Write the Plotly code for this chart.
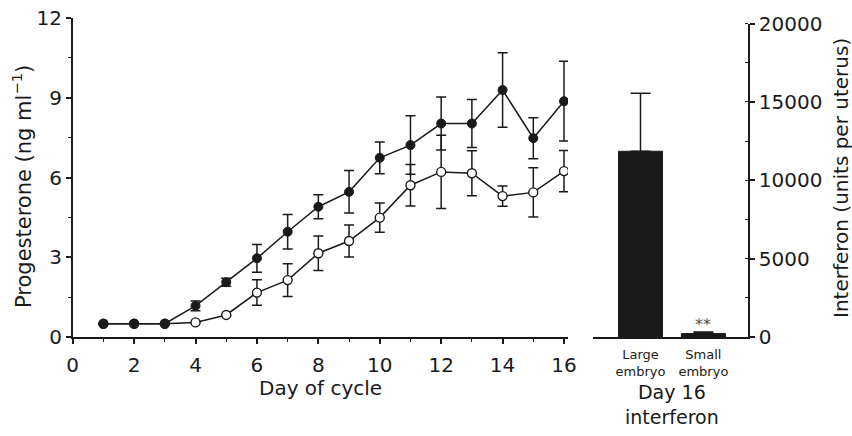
import plotly.graph_objects as go

days = list(range(1, 17))
large_mean = [0.5, 0.5, 0.5, 1.17, 2.06, 2.96, 3.96, 4.9, 5.46, 6.74, 7.22, 8.03, 8.03, 9.29, 7.48, 8.87]
large_err = [0, 0, 0, 0.18, 0.15, 0.52, 0.65, 0.45, 0.8, 0.6, 1.1, 1.0, 0.9, 1.4, 0.77, 1.5]
small_mean = [0.5, 0.5, 0.5, 0.55, 0.83, 1.67, 2.14, 3.15, 3.61, 4.49, 5.71, 6.21, 6.16, 5.3, 5.44, 6.24]
small_err = [0, 0, 0, 0, 0, 0.48, 0.62, 0.65, 0.6, 0.55, 0.78, 1.38, 0.85, 0.38, 0.93, 0.78]

bar_labels = ["Large<br>embryo", "Small<br>embryo"]
bar_values = [11850, 220]
bar_err = [3700, 100]

left_ticks = [0, 3, 6, 9, 12]
day_ticks = [0, 2, 4, 6, 8, 10, 12, 14, 16]
right_ticks = [0, 5000, 10000, 15000, 20000]

ink = "#1a1a1a"
FONT = "DejaVu Sans, Liberation Sans, Arial, sans-serif"

fig = go.Figure()

fig.add_trace(go.Scatter(
    x=days, y=small_mean, mode="lines+markers",
    line=dict(color=ink, width=1.5),
    marker=dict(symbol="circle", size=9, color="white", line=dict(color=ink, width=1.4)),
    error_y=dict(type="data", array=small_err, visible=True, color=ink, thickness=1.5, width=5),
    xaxis="x", yaxis="y", showlegend=False,
))
fig.add_trace(go.Scatter(
    x=days, y=large_mean, mode="lines+markers",
    line=dict(color=ink, width=1.5),
    marker=dict(symbol="circle", size=9, color=ink, line=dict(color=ink, width=1)),
    error_y=dict(type="data", array=large_err, visible=True, color=ink, thickness=1.5, width=5),
    xaxis="x", yaxis="y", showlegend=False,
))

fig.add_trace(go.Bar(
    x=[0, 1], y=bar_values, width=0.7,
    marker=dict(color=ink, line=dict(color=ink, width=1)),
    error_y=dict(type="data", symmetric=False, array=bar_err, arrayminus=[0, 0],
                 visible=True, color=ink, thickness=1.5, width=10),
    xaxis="x2", yaxis="y2", showlegend=False,
))

W, H = 852, 436
def fx(px):
    return px / W
def fy(py):
    return 1 - py / H

tickfont = dict(family=FONT, size=20, color=ink)

fig.update_layout(
    width=W, height=H,
    margin=dict(l=0, r=0, t=0, b=0),
    paper_bgcolor="white", plot_bgcolor="white",
    font=dict(family=FONT, color=ink),
    xaxis=dict(
        domain=[fx(72.7), fx(568)], range=[0, 16.13],
        tickvals=day_ticks, automargin=False,
        ticks="outside", ticklen=5, tickwidth=1.5, tickcolor=ink,
        minor=dict(dtick=1, tick0=0, ticks="outside", ticklen=3, tickwidth=1, tickcolor=ink),
        showline=True, linecolor=ink, linewidth=1.5,
        showgrid=False, zeroline=False, tickfont=tickfont, ticklabelstandoff=4,
        anchor="y",
    ),
    yaxis=dict(
        domain=[fy(337), fy(18)], range=[0, 12],
        tickvals=left_ticks, automargin=False,
        ticks="outside", ticklen=5, tickwidth=1.5, tickcolor=ink,
        minor=dict(dtick=1.5, tick0=0, ticks="outside", ticklen=3, tickwidth=1, tickcolor=ink),
        showline=True, linecolor=ink, linewidth=1.5,
        showgrid=False, zeroline=False, tickfont=tickfont,
        anchor="x",
    ),
    xaxis2=dict(
        domain=[fx(593), fx(748)], range=[-0.755, 1.709],
        tickvals=[0, 1], ticktext=bar_labels, ticks="", automargin=False,
        tickfont=dict(family=FONT, size=13, color=ink), ticklabelstandoff=5,
        showline=True, linecolor=ink, linewidth=1.5,
        showgrid=False, zeroline=False, anchor="y2",
    ),
    yaxis2=dict(
        domain=[fy(337), fy(23.5)], range=[0, 20000],
        side="right", anchor="x2", automargin=False,
        tickvals=right_ticks, ticktext=[str(v) for v in right_ticks],
        ticks="outside", ticklen=5, tickwidth=1.5, tickcolor=ink,
        minor=dict(dtick=2500, tick0=0, ticks="inside", ticklen=3, tickwidth=1, tickcolor=ink),
        showline=True, linecolor=ink, linewidth=1.5,
        showgrid=False, zeroline=False, tickfont=tickfont,
    ),
    annotations=[
        dict(text="Progesterone (ng ml<sup>−1</sup>)", textangle=-90,
             x=fx(22), y=fy(187), xref="paper", yref="paper",
             xanchor="center", yanchor="middle",
             showarrow=False, font=dict(family=FONT, size=21, color=ink)),
        dict(text="Interferon (units per uterus)", textangle=-90,
             x=fx(841), y=fy(178), xref="paper", yref="paper",
             xanchor="center", yanchor="middle",
             showarrow=False, font=dict(family=FONT, size=20, color=ink)),
        dict(text="Day of cycle", x=fx(320), y=fy(388), xref="paper", yref="paper",
             xanchor="center", yanchor="middle",
             showarrow=False, font=dict(family=FONT, size=20, color=ink)),
        dict(text="Day 16<br>interferon", x=fx(672), y=fy(404),
             xref="paper", yref="paper", xanchor="center", yanchor="middle",
             showarrow=False, font=dict(family=FONT, size=19, color=ink)),
        dict(text="**", x=1, y=bar_values[1] + bar_err[1], xref="x2", yref="y2",
             yanchor="bottom", yshift=-4, showarrow=False,
             font=dict(family=FONT, size=16, color="#555")),
    ],
)

fig.write_html("out.html")
